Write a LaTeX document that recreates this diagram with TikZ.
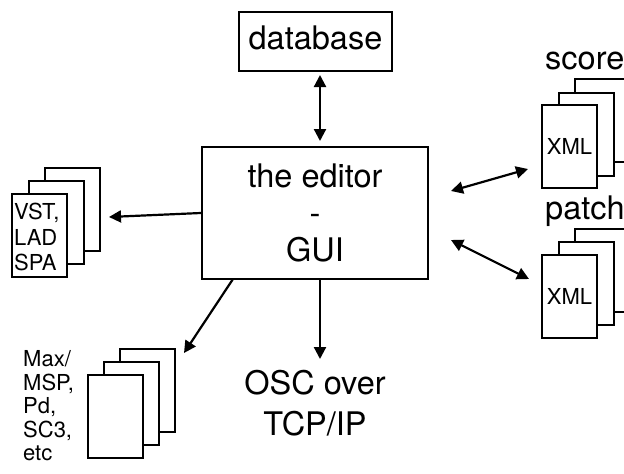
\documentclass[tikz,border=0pt]{standalone}
\usepackage{fontspec}
\setmainfont{TeX Gyre Heros}
\usetikzlibrary{arrows.meta}
\begin{document}
\begin{tikzpicture}[x=1pt,y=-1pt,
  sheet/.style={draw,line width=2pt,fill=white,minimum width=55pt,minimum height=83pt,inner sep=0pt,anchor=north west},
  bigbox/.style={draw,line width=2.4pt,inner sep=0pt},
  bigtext/.style={font=\fontsize{32.5}{37}\selectfont},
  smalltext/.style={font=\fontsize{22}{23.5}\selectfont},
  conn/.style={line width=2.2pt,-{Triangle[length=12pt,width=12pt]}},
  bconn/.style={line width=2.2pt,{Triangle[length=12pt,width=12pt]}-{Triangle[length=12pt,width=12pt]}}]
\useasboundingbox (0,0) rectangle (624,474);
% database
\node[bigbox,minimum width=153pt,minimum height=59pt,bigtext,text height=25pt,text depth=10pt] (db) at (315.5,41.5) {database};
% editor
\node[bigbox,minimum width=226pt,minimum height=132pt,bigtext,align=center] (ed) at (315,213) {the editor\\-\\GUI};
% OSC
\node[align=center,inner sep=0pt,font=\fontsize{32.5}{41}\selectfont] (osc) at (315,403) {OSC over\\TCP/IP};
% VST stack
\node[sheet] (vst3) at (44,167) {};
\node[sheet] (vst2) at (28,180) {};
\node[sheet] (vst1) at (11,193) {};
\node[align=left,anchor=west,inner sep=0pt,font=\fontsize{22}{25.5}\selectfont] (vsttext) at (14,237) {VST,\\LAD\\SPA};
% Max stack
\node[sheet] (max3) at (119,348) {};
\node[sheet] (max2) at (103,361) {};
\node[sheet] (max1) at (87,374) {};
\node[smalltext,align=left,anchor=west,inner sep=0pt] (maxtext) at (23,406) {Max/\\MSP,\\Pd,\\SC3,\\etc};
% score stack
\node[sheet] (sc3) at (574,78) {};
\node[sheet] (sc2) at (558,92) {};
\node[sheet] (sc1) at (541,104) {};
\node[smalltext,inner sep=0pt] (scx) at (sc1.center) {XML};
\node[bigtext,anchor=base west,inner sep=0pt] (sclabel) at (545,69) {score};
% patch stack
\node[sheet] (pa3) at (574,228) {};
\node[sheet] (pa2) at (558,241) {};
\node[sheet] (pa1) at (541,254) {};
\node[smalltext,inner sep=0pt] (pax) at (pa1.center) {XML};
\node[bigtext,anchor=base west,inner sep=0pt] (palabel) at (545,219) {patch};
% connector end points
\coordinate (dbend) at (320,75);
\coordinate (edtop) at (320,141);
\coordinate (oscin) at (320,359);
\coordinate (maxout) at (233,279);
\coordinate (maxin) at (184,353);
\coordinate (vstin) at (109,217);
\coordinate (scA) at (451,191);
\coordinate (scB) at (528,169);
\coordinate (paA) at (451,240);
\coordinate (paB) at (529,279);
% connectors
\draw[bconn] (dbend) -- (edtop);
\draw[conn] (ed.south -| oscin) -- (oscin);
\draw[conn] (maxout) -- (maxin);
\draw[conn] (ed.west) -- (vstin);
\draw[bconn] (scA) -- (scB);
\draw[bconn] (paA) -- (paB);
\end{tikzpicture}
\end{document}
